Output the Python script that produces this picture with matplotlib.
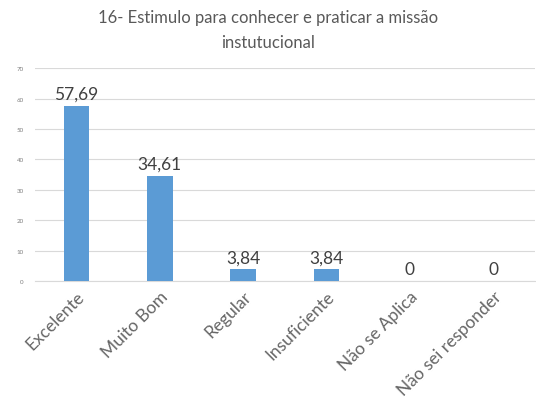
import matplotlib
matplotlib.use("Agg")
import matplotlib.pyplot as plt

categories = ["Excelente", "Muito Bom", "Regular", "Insuficiente", "Não se Aplica", "Não sei responder"]
values = [57.69, 34.61, 3.84, 3.84, 0, 0]
labels = ["57,69", "34,61", "3,84", "3,84", "0", "0"]
yticks = [0, 10, 20, 30, 40, 50, 60, 70]

plt.rcParams['font.family'] = ['Lato', 'DejaVu Sans']
fig = plt.figure(figsize=(5.36, 4.14), dpi=100)
ax = fig.add_axes([0.065, 0.319, 0.933, 0.514])
x = list(range(len(categories)))
ax.bar(x, values, width=0.31, color="#5B9BD5", zorder=3)
for xi, v, lab in zip(x, values, labels):
    ax.text(xi, v + 1.3, lab, ha="center", va="bottom", fontsize=12.5, color="#404040")
ax.set_xlim(-0.5, len(categories) - 0.5)
ax.set_ylim(0, 70)
ax.set_yticks(yticks)
ax.set_yticklabels([str(t) for t in yticks], fontsize=4.5, color="#7f7f7f")
ax.set_xticks(x)
ax.set_xticklabels(categories, rotation=45, ha="right", rotation_mode="anchor", fontsize=12.5, color="#666666")
ax.tick_params(axis="both", length=0)
ax.tick_params(axis="y", pad=8)
ax.tick_params(axis="x", pad=5)
ax.grid(axis="y", color="#d9d9d9", linewidth=0.8, zorder=0)
for s in ["top", "right", "left"]:
    ax.spines[s].set_visible(False)
ax.spines["bottom"].set_color("#d9d9d9")
fig.text(0.5, 0.975, "16- Estimulo para conhecer e praticar a missão\ninstutucional", ha="center", va="top",
         fontsize=12, color="#595959", linespacing=1.7)
fig.savefig("out.png", dpi=100)
